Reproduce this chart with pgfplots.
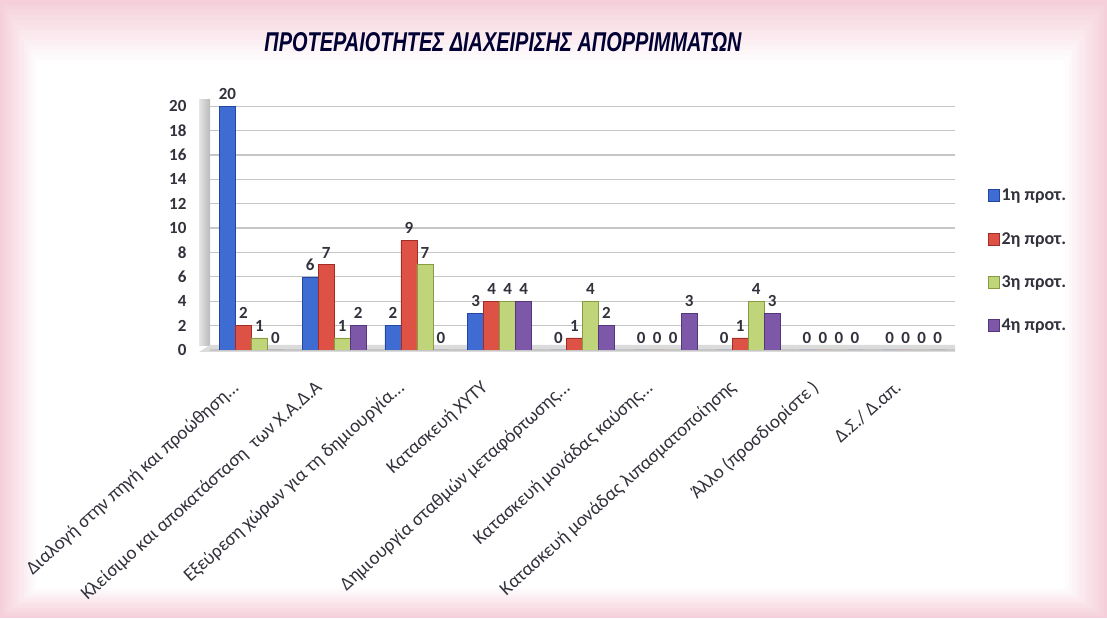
\documentclass[border=0pt]{standalone}
\usepackage{pgfplots}
\pgfplotsset{compat=1.18}
\usepackage{fontspec}
\setmainfont{Carlito}
\newfontfamily\titlefont{Liberation Sans}
\newcommand\dd{...}
\definecolor{bgpink}{RGB}{245,208,218}
\definecolor{cblue}{RGB}{62,108,210}
\definecolor{cblued}{RGB}{35,70,160}
\definecolor{cred}{RGB}{222,82,70}
\definecolor{credd}{RGB}{160,45,40}
\definecolor{cgreen}{RGB}{192,212,122}
\definecolor{cgreend}{RGB}{135,155,65}
\definecolor{cpurple}{RGB}{125,88,168}
\definecolor{cpurpled}{RGB}{85,55,125}
\definecolor{txtgray}{RGB}{50,50,60}
\begin{document}
\begin{tikzpicture}[x=1pt,y=1pt]
% background: soft pink frame
\fill[bgpink] (0,0) rectangle (1107,618);
\foreach \i in {1,...,12}{
  \pgfmathsetmacro{\mix}{100-\i*100/12}
  \fill[bgpink!\mix!white] (3*\i,2.5*\i) rectangle (1107-3.5*\i,618-5*\i);
}
% title
\node[anchor=base, text=black!80!blue, inner sep=0pt] at (503,566) {\resizebox{477pt}{19pt}{\titlefont\bfseries\itshape ΠΡΟΤΕΡΑΙΟΤΗΤΕΣ ΔΙΑΧΕΙΡΙΣΗΣ ΑΠΟΡΡΙΜΜΑΤΩΝ}};
% 3D side wall and floor
\shade[left color=gray!20, right color=gray!55] (199,272) rectangle (210,518);
\fill[gray!28] (199,266) -- (210,273) -- (955,273) -- (955,266) -- cycle;
\begin{axis}[
  at={(210pt,268pt)}, anchor=south west,
  scale only axis, width=745pt, height=256pt,
  xmin=-0.5, xmax=8.5, ymin=0, ymax=21,
  ybar=0pt, bar width=16pt,
  axis line style={draw=none},
  ymajorgrids, grid style={gray!45, line width=1.2pt},
  ytick={0,2,...,20}, major tick length=0pt,
  xtick={0,...,8},
  xticklabels={{Διαλογή στην πηγή και προώθηση\dd},{Κλείσιμο και αποκατάσταση\ \ των Χ.Α.Δ.Α},{Εξεύρεση χώρων για τη δημιουργία\dd},{Κατασκευή ΧΥΤΥ},{Δημιουργία σταθμών μεταφόρτωσης\dd},{Κατασκευή μονάδας καύσης\dd},{Κατασκευή μονάδας λιπασματοποίησης},{Άλλο (προσδιορίστε )},{Δ.Σ./ Δ.απ.}},
  x tick label style={xshift=-20pt, yshift=-24pt, rotate=42, anchor=north east, font=\fontsize{19}{21}\selectfont, text=txtgray},
  y tick label style={font=\fontsize{17}{19}\selectfont\bfseries, text=txtgray, xshift=-20pt},
  /pgf/number format/assume math mode=true,
  nodes near coords,
  nodes near coords style={font=\fontsize{17}{19}\selectfont\bfseries, text=txtgray, yshift=3pt},
  legend style={at={(1.04,0.645)}, anchor=north west, draw=none, fill=none,
    font=\fontsize{18}{20}\selectfont\bfseries, text=txtgray, row sep=26pt},
  legend image code/.code={\fill[#1] (0pt,-6pt) rectangle (11pt,6pt);},
  legend cell align=left,
]
\addplot[draw=cblued, line width=0.6pt, fill=cblue] coordinates {(0,20) (1,6) (2,2) (3,3) (4,0) (5,0) (6,0) (7,0) (8,0)};
\addplot[draw=credd, line width=0.6pt, fill=cred] coordinates {(0,2) (1,7) (2,9) (3,4) (4,1) (5,0) (6,1) (7,0) (8,0)};
\addplot[draw=cgreend, line width=0.6pt, fill=cgreen] coordinates {(0,1) (1,1) (2,7) (3,4) (4,4) (5,0) (6,4) (7,0) (8,0)};
\addplot[draw=cpurpled, line width=0.6pt, fill=cpurple] coordinates {(0,0) (1,2) (2,0) (3,4) (4,2) (5,3) (6,3) (7,0) (8,0)};
\legend{1η προτ.,2η προτ.,3η προτ.,4η προτ.}
\end{axis}
\end{tikzpicture}
\end{document}
